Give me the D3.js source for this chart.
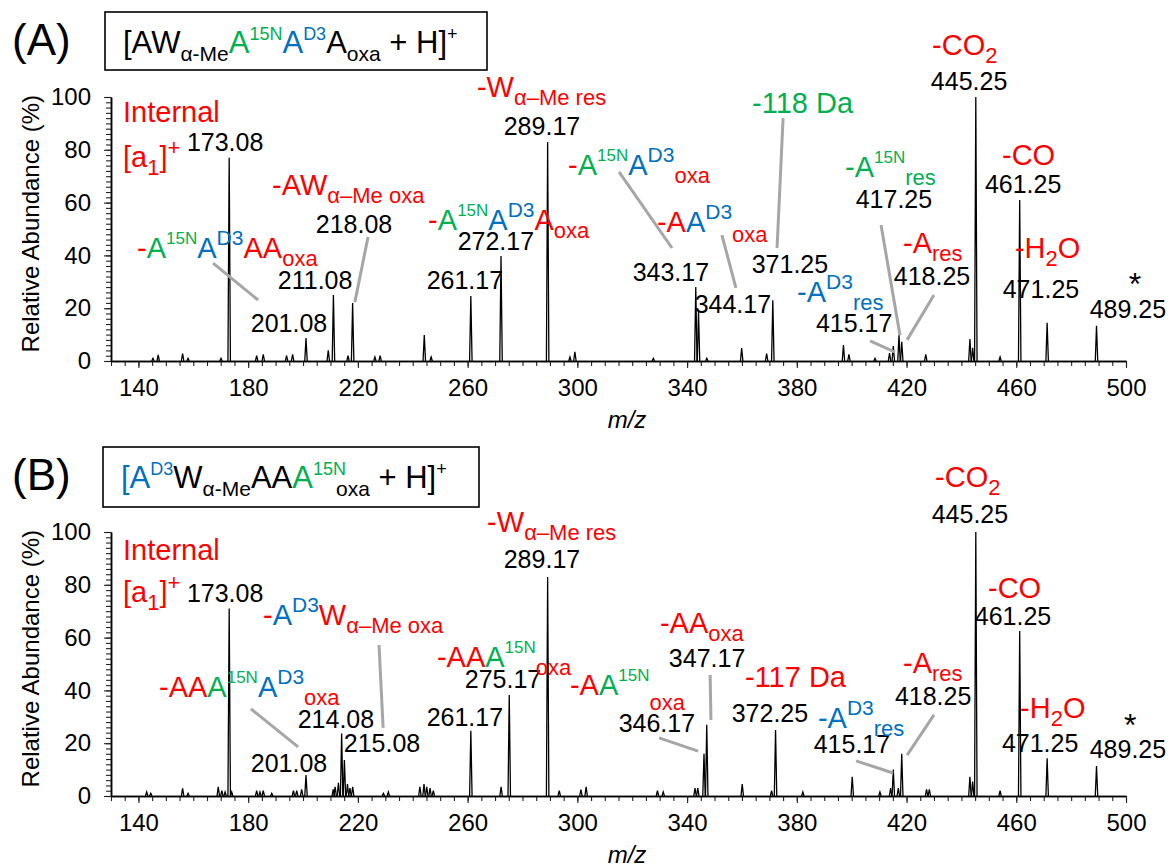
<!DOCTYPE html>
<html><head><meta charset="utf-8">
<script src="https://cdn.jsdelivr.net/npm/d3@7"></script>
<style>
body{margin:0;background:#fff}
svg{display:block}
text{font-family:"Liberation Sans",Arial,sans-serif;white-space:pre}
</style>
</head><body>
<svg id="c" width="1170" height="867"></svg>
<script>
// ---------------- data ----------------
const xDomain = [130, 500];
const xTickLabels = [140, 180, 220, 260, 300, 340, 380, 420, 460, 500];
const yTickLabels = [0, 20, 40, 60, 80, 100];

// Panel A spectrum (m/z, relative abundance %)
const mzA  = [145.3,147.2,156.1,158.1,170.1,173.08,183.1,185.5,194.0,196.2,201.08,209.2,211.08,216.4,218.08,226.2,228.1,
              244.2,246.7,261.17,272.17,289.17,297.3,299.1,327.7,343.17,344.17,347.2,359.9,369.0,371.25,
              397.0,399.0,408.5,413.8,415.17,417.25,418.25,427.0,443.1,444.1,445.25,454.1,461.25,471.25,489.25];
const intA = [1.0,2.3,2.8,1.0,1.0,77,2.0,2.5,2.0,2.5,8.7,4.0,25,2.0,22,1.5,2.0,
              9.8,1.5,24.6,39.8,83,1.5,3.5,1.0,28,18.7,1.0,4.9,2.8,23,
              6.0,2.5,1.0,3.0,5.7,9.8,7.3,2.5,8.3,5.0,100,1.5,61,14.5,13.3];

// Panel B spectrum
const mzB  = [143.0,144.5,156.1,158.1,169.1,170.4,171.6,173.08,174.0,183.1,184.3,185.5,188.6,196.5,197.7,199.5,201.08,
              211.0,211.7,212.9,214.08,215.08,216.2,217.1,218.1,229.3,231.1,
              242.6,244.1,245.1,246.3,247.5,261.17,272.2,275.17,289.17,293.4,301.3,303.2,329.2,331.3,342.9,343.9,346.17,347.17,
              360.1,370.8,372.25,382.2,400.2,410.3,414.2,415.17,417.0,418.25,427.3,428.3,443.1,444.1,445.25,454.1,461.25,471.25,489.25];
const intB = [1.5,1.0,2.9,1.0,3.5,2.0,1.5,71,1.5,2.0,1.5,2.0,1.0,2.0,2.0,2.5,7.9,
              2.5,3.5,5.0,23.7,13.6,4.5,3.0,3.5,1.0,1.5,
              3.5,4.5,3.5,3.0,2.0,24.7,3.5,38.3,83,2.0,2.4,3.5,2.0,1.5,3.0,3.0,16,27,
              4.5,2.0,25,1.5,7.3,1.5,3.0,10,3.0,16,2.5,2.5,7.3,5.5,100,2.0,62.5,14.3,11.4];

// Peak value labels
const numTextA = ["173.08","218.08","201.08","211.08","272.17","261.17","289.17","343.17","344.17","371.25",
                  "417.25","418.25","415.17","445.25","461.25","471.25","489.25"];
const numTextB = ["173.08","215.08","214.08","201.08","275.17","261.17","289.17","347.17","346.17","372.25",
                  "415.17","418.25","445.25","461.25","471.25","489.25"];

// ---------------- layout (label anchors in data units: m/z, %) ----------------
const numPosA = [[171.6,79.5],[218.6,48.5],[194.9,11.0],[204.4,27.3],[270.3,42.0],[259.0,27.3],[287.1,85.6],
                 [334.1,30.3],[356.7,18.2],[377.5,33.3],[415.4,58.0],[429.3,28.8],[400.9,11.0],[442.8,102.7],
                 [462.5,63.6],[469.0,23.9],[500.7,16.3]];
const numPosB = [[171.6,73.5],[228.8,16.7],[212.0,25.8],[194.9,9.1],[272.9,40.9],[259.0,26.5],[287.1,86.4],
                 [347.3,48.9],[329.0,24.2],[370.2,28.0],[400.1,16.3],[429.7,34.5],[443.1,103.4],[458.8,64.8],
                 [468.7,16.7],[500.7,14.4]];

const leadersA = [[223.7,47.0,218.9,22.3],[167.2,37.1,183.6,23.1],[315.2,71.6,334.5,42.8],[352.7,47.7,357.8,27.7],
                  [375.0,92.0,372.8,42.8],[410.7,51.5,417.6,9.8],[430.0,25.0,420.2,8.0],[406.7,7.6,415.8,3.4]];
const leadersB = [[227.7,57.2,229.2,25.8],[181.0,33.0,198.2,18.6],[348.4,45.8,348.7,28.8],[329.8,22.0,344.0,17.0],
                  [401.6,13.3,415.1,8.7],[430.0,30.7,420.2,15.5]];

// annotation text: segments [text, colour, style]
const annA = [
  {at:[134.4,90.5], segs:[["Internal","R","m"]]},
  {at:[134.4,73.5], segs:[["[a","R","m"],["1","R","s"],["]","R","m"],["+","R","q"]]},
  {at:[188.7,62.9], segs:[["-AW","R","m"],["α–Me oxa","R","s"]]},
  {at:[139.5,39.0], segs:[["-","R","m"],["A","G","m"],["15N","G","p"],["A","B","m"],["D3","B","d"],["AA","R","m"],["oxa","R","s"]]},
  {at:[245.6,49.6], segs:[["-","R","m"],["A","G","m"],["15N","G","p"],["A","B","m"],["D3","B","d"],["A","R","m"],["oxa","R","s"]]},
  {at:[263.4,100.0], segs:[["-W","R","m"],["α–Me res","R","s"]]},
  {at:[296.6,70.5], segs:[["-","R","m"],["A","G","m"],["15N","G","p"],["A","B","m"],["D3","B","d"],["oxa","R","s"]]},
  {at:[329.0,48.9], segs:[["-A","R","m"],["A","B","m"],["D3","B","d"],["oxa","R","t"]]},
  {at:[363.7,93.9], segs:[["-118 Da","G","m"]]},
  {at:[397.6,69.7], segs:[["-A","G","m"],["15N","G","p"],["res","G","s"]]},
  {at:[418.7,40.9], segs:[["-A","R","m"],["res","R","s"]]},
  {at:[380.1,22.3], segs:[["-A","B","m"],["D3","B","d"],["res","B","s"]]},
  {at:[429.3,115.9], segs:[["-CO","R","m"],["2","R","s"]]},
  {at:[454.8,74.2], segs:[["-CO","R","m"]]},
  {at:[459.5,39.0], segs:[["-H","R","m"],["2","R","s"],["O","R","m"]]}
];
const annB = [
  {at:[134.4,89.4], segs:[["Internal","R","m"]]},
  {at:[134.4,73.5], segs:[["[a","R","m"],["1","R","s"],["]","R","m"],["+","R","q"]]},
  {at:[185.4,64.8], segs:[["-","R","m"],["A","B","m"],["D3","B","d"],["W","R","m"],["α–Me oxa","R","s"]]},
  {at:[147.5,37.5], segs:[["-AA","R","m"],["A","G","m"],["15N","G","p"],["A","B","m"],["D3","B","d"],["oxa","R","s"]]},
  {at:[248.8,48.9], segs:[["-AA","R","m"],["A","G","m"],["15N","G","p"],["oxa","R","s"]]},
  {at:[267.1,100.0], segs:[["-W","R","m"],["α–Me res","R","s"]]},
  {at:[330.1,61.7], segs:[["-AA","R","m"],["oxa","R","s"]]},
  {at:[297.3,38.3], segs:[["-A","R","m"],["A","G","m"],["15N","G","p"],["oxa","R","u"]]},
  {at:[361.1,41.3], segs:[["-117 Da","R","m"]]},
  {at:[387.7,25.8], segs:[["-A","B","m"],["D3","B","d"],["res","B","s"]]},
  {at:[418.7,46.6], segs:[["-A","R","m"],["res","R","s"]]},
  {at:[430.4,117.0], segs:[["-CO","R","m"],["2","R","s"]]},
  {at:[449.7,75.0], segs:[["-CO","R","m"]]},
  {at:[461.4,29.5], segs:[["-H","R","m"],["2","R","s"],["O","R","m"]]}
];
const starA = [503.3,25.0], starB = [501.5,22.7];

const titleA = [["[AW","K","bm"],["α-Me","K","bs"],["A","G","bm"],["15N","G","bp"],["A","B","bm"],["D3","B","bp"],["A","K","bm"],["oxa","K","bs"],[" + H]","K","bm"],["+","K","bp"]];
const titleB = [["[A","B","bm"],["D3","B","bp"],["W","K","bm"],["α-Me","K","bs"],["AA","K","bm"],["A","G","bm"],["15N","G","bp"],["oxa","K","bs",-10],[" + H]","K","bm"],["+","K","bp"]];

// ---------------- styles ----------------
const COL = {R:"#ff0000", G:"#00b050", B:"#0070c0", K:"#000000"};
const ST = {
  m:{size:29,dy:0}, s:{size:22,dy:8}, t:{size:22,dy:10}, u:{size:22,dy:15},
  p:{size:17,dy:-14}, d:{size:21,dy:-13}, q:{size:22,dy:-12},
  bm:{size:31,dy:0}, bs:{size:21,dy:8}, bp:{size:18,dy:-13}
};

const svg = d3.select("#c");
const x = d3.scaleLinear().domain(xDomain).range([111, 1126]);
const y = d3.scaleLinear().domain([0, 100]).range([361, 97]);

function rich(g, px, py, segs){
  const t = g.append("text").attr("x", px).attr("y", py);
  segs.forEach(([txt, c, st, dx]) => {
    const s = ST[st];
    const ts = t.append("tspan").attr("y", py + s.dy).attr("font-size", s.size).attr("fill", COL[c]).text(txt);
    if (dx) ts.attr("dx", dx);
  });
  return t;
}

function panel(offY, letter, title, boxRect, mz, inten, numText, numPos, leaders, ann, star){
  const g = svg.append("g").attr("transform", `translate(0,${offY})`);
  // panel letter
  g.append("text").attr("x", 12).attr("y", 55).attr("font-size", 44).text(letter);
  // title box
  g.append("rect").attr("x", boxRect[0]).attr("y", boxRect[1]).attr("width", boxRect[2]).attr("height", boxRect[3])
    .attr("fill", "none").attr("stroke", "#000").attr("stroke-width", 1.6);
  rich(g, boxRect[0] + 18, 53, title);

  // axes
  const xMinor = d3.axisBottom(x).tickValues(d3.range(130, 501, 5)).tickSize(5).tickFormat("").tickSizeOuter(0);
  const gxm = g.append("g").attr("transform", `translate(0,${y(0)})`).call(xMinor);
  const xMajor = d3.axisBottom(x).tickValues(xTickLabels).tickSize(7).tickPadding(11).tickSizeOuter(0);
  const gx = g.append("g").attr("transform", `translate(0,${y(0)})`).call(xMajor);
  gx.selectAll("text").attr("font-size", 24).attr("fill", "#000").style("font-family", '"Liberation Sans",Arial,sans-serif');
  const yMinor = d3.axisLeft(y).tickValues(d3.range(0, 101, 2)).tickSize(5).tickFormat("").tickSizeOuter(0);
  const gym = g.append("g").attr("transform", `translate(${x(130)},0)`).call(yMinor);
  const yMajor = d3.axisLeft(y).tickValues(yTickLabels).tickSize(7).tickPadding(13).tickSizeOuter(0);
  const gy = g.append("g").attr("transform", `translate(${x(130)},0)`).call(yMajor);
  gy.selectAll("text").attr("font-size", 24).attr("fill", "#000").style("font-family", '"Liberation Sans",Arial,sans-serif');
  [gxm, gx, gym, gy].forEach(a => {
    a.selectAll("line").attr("stroke", "#222").attr("stroke-width", 1.1);
    a.select(".domain").attr("stroke", "#000").attr("stroke-width", 1.5);
  });

  g.append("text").attr("transform", `translate(31,${y(52)}) rotate(-90)`).attr("text-anchor", "middle")
    .attr("dy", "0.35em").attr("font-size", 24).text("Relative Abundance (%)");
  g.append("text").attr("x", 627).attr("y", y(0) + 67).attr("text-anchor", "middle")
    .attr("font-size", 24).attr("font-style", "italic").text("m/z");

  // peaks
  const line = d3.line().x(d => x(d[0])).y(d => y(d[1]));
  const peaks = mz.map((m, i) => ({m, h: inten[i]}));
  g.append("g").selectAll("path").data(peaks).join("path")
    .attr("d", d => line([[d.m - 0.45, 0], [d.m, d.h], [d.m + 0.45, 0]]))
    .attr("fill", "none").attr("stroke", "#000").attr("stroke-width", 1.3).attr("stroke-linejoin", "miter");

  // leader lines
  g.append("g").selectAll("line").data(leaders).join("line")
    .attr("x1", d => x(d[0])).attr("y1", d => y(d[1])).attr("x2", d => x(d[2])).attr("y2", d => y(d[3]))
    .attr("stroke", "#a6a6a6").attr("stroke-width", 3);

  // numeric labels
  g.append("g").selectAll("text").data(numText).join("text")
    .attr("x", (d, i) => x(numPos[i][0])).attr("y", (d, i) => y(numPos[i][1]))
    .attr("text-anchor", "middle").attr("font-size", 25).attr("fill", "#000").text(d => d);

  // annotations
  ann.forEach(a => rich(g, x(a.at[0]), y(a.at[1]), a.segs));
  g.append("text").attr("x", x(star[0])).attr("y", y(star[1])).attr("text-anchor", "middle")
    .attr("font-size", 32).attr("fill", "#000").text("*");
}

panel(0, "(A)", titleA, [105, 12, 382, 58], mzA, intA, numTextA, numPosA, leadersA, annA, starA);
panel(435, "(B)", titleB, [103, 12, 376, 60], mzB, intB, numTextB, numPosB, leadersB, annB, starB);
</script>
</body></html>
